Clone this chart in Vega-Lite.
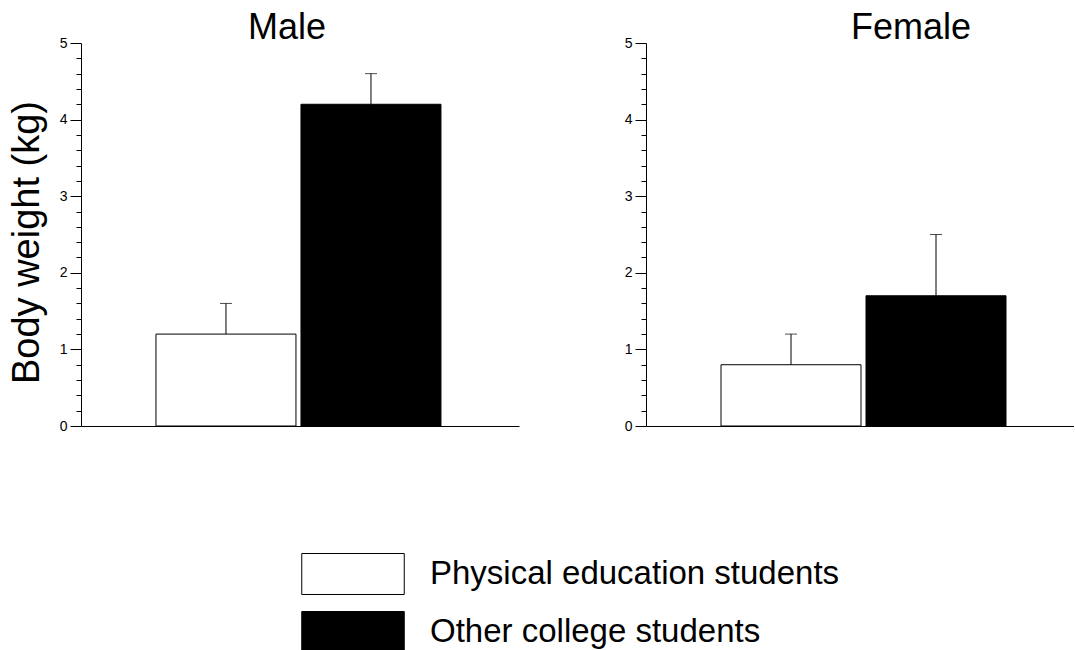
{
  "$schema": "https://vega.github.io/schema/vega-lite/v6.json",
  "background": "white",
  "padding": {"left": 8, "top": 10, "right": 0, "bottom": 0},
  "config": {
    "view": {"stroke": null},
    "font": "Liberation Sans",
    "axis": {"grid": false, "domainColor": "black", "tickColor": "black", "labelColor": "black", "titleColor": "black"},
    "title": {"color": "black", "fontWeight": "normal"}
  },
  "data": {
    "values": [
      {"sex": "Male", "group": "Physical education students", "value": 1.2, "upper": 1.6},
      {"sex": "Male", "group": "Other college students", "value": 4.2, "upper": 4.6},
      {"sex": "Female", "group": "Physical education students", "value": 0.8, "upper": 1.2},
      {"sex": "Female", "group": "Other college students", "value": 1.7, "upper": 2.5}
    ]
  },
  "spacing": 105,
  "resolve": {"scale": {"x": "independent", "y": "independent"}},
  "hconcat": [
    {
      "width": 438,
      "height": 383,
      "title": {"text": "Male", "fontSize": 36, "anchor": "middle", "frame": "group", "baseline": "alphabetic", "offset": -39, "dx": -13},
      "transform": [{"filter": "datum.sex === 'Male'"}],
      "encoding": {
        "x": {
          "field": "group", "type": "nominal",
          "sort": ["Physical education students", "Other college students"],
          "scale": {"paddingInner": 0.0345, "paddingOuter": 0.5276, "align": 0.49},
          "axis": {"labels": false, "ticks": false, "title": null, "domainColor": "black"}
        }
      },
      "resolve": {"axis": {"y": "independent"}},
      "layer": [
        {
          "mark": {"type": "bar", "stroke": "black", "strokeWidth": 1},
          "encoding": {
            "y": {
              "field": "value", "type": "quantitative",
              "scale": {"domain": [0, 5], "nice": false},
              "axis": {
                "orient": "left",
                "title": "Body weight (kg)", "titleFontSize": 38, "titleFontWeight": "normal", "titlePadding": 13, "titleY": 199,
                "values": [0, 1, 2, 3, 4, 5], "format": "d", "tickSize": 11,
                "labelFontSize": 14, "labelPadding": 3, "labelOverlap": false
              }
            },
            "fill": {
              "field": "group", "type": "nominal",
              "sort": ["Physical education students", "Other college students"],
              "scale": {"domain": ["Physical education students", "Other college students"], "range": ["white", "black"]},
              "legend": {
                "title": null, "orient": "none", "legendX": 251, "legendY": 510,
                "symbolType": "M-2.5,-1H2.5V1H-2.5Z", "symbolSize": 1681,
                "symbolStrokeColor": "black", "symbolStrokeWidth": 1, "symbolOpacity": 1,
                "labelFontSize": 33, "labelOffset": 56, "rowPadding": 12, "labelColor": "black",
                "labelLimit": 1000, "padding": 0
              }
            }
          }
        },
        {
          "mark": {"type": "rule", "color": "black", "strokeWidth": 1},
          "encoding": {"y": {"field": "value", "type": "quantitative", "axis": null}, "y2": {"field": "upper"}}
        },
        {
          "mark": {"type": "tick", "color": "black", "size": 12, "thickness": 1},
          "encoding": {
            "y": {
              "field": "upper", "type": "quantitative",
              "axis": {
                "orient": "left", "title": null, "labels": false, "domain": false, "tickSize": 5,
                "values": [0.2, 0.4, 0.6, 0.8, 1.2, 1.4, 1.6, 1.8, 2.2, 2.4, 2.6, 2.8, 3.2, 3.4, 3.6, 3.8, 4.2, 4.4, 4.6, 4.8]
              }
            }
          }
        }
      ]
    },
    {
      "width": 428,
      "height": 383,
      "title": {"text": "Female", "fontSize": 36, "anchor": "middle", "frame": "group", "baseline": "alphabetic", "offset": -39, "dx": 51},
      "transform": [{"filter": "datum.sex === 'Female'"}],
      "encoding": {
        "x": {
          "field": "group", "type": "nominal",
          "sort": ["Physical education students", "Other college students"],
          "scale": {"paddingInner": 0.0345, "paddingOuter": 0.4931, "align": 0.5245},
          "axis": {"labels": false, "ticks": false, "title": null, "domainColor": "black"}
        }
      },
      "resolve": {"axis": {"y": "independent"}},
      "layer": [
        {
          "mark": {"type": "bar", "stroke": "black", "strokeWidth": 1},
          "encoding": {
            "y": {
              "field": "value", "type": "quantitative",
              "scale": {"domain": [0, 5], "nice": false},
              "axis": {
                "orient": "left", "title": null,
                "values": [0, 1, 2, 3, 4, 5], "format": "d", "tickSize": 11,
                "labelFontSize": 14, "labelPadding": 3, "labelOverlap": false
              }
            },
            "fill": {
              "field": "group", "type": "nominal",
              "sort": ["Physical education students", "Other college students"],
              "scale": {"domain": ["Physical education students", "Other college students"], "range": ["white", "black"]}
            }
          }
        },
        {
          "mark": {"type": "rule", "color": "black", "strokeWidth": 1},
          "encoding": {"y": {"field": "value", "type": "quantitative", "axis": null}, "y2": {"field": "upper"}}
        },
        {
          "mark": {"type": "tick", "color": "black", "size": 12, "thickness": 1},
          "encoding": {
            "y": {
              "field": "upper", "type": "quantitative",
              "axis": {
                "orient": "left", "title": null, "labels": false, "domain": false, "tickSize": 5,
                "values": [0.2, 0.4, 0.6, 0.8, 1.2, 1.4, 1.6, 1.8, 2.2, 2.4, 2.6, 2.8, 3.2, 3.4, 3.6, 3.8, 4.2, 4.4, 4.6, 4.8]
              }
            }
          }
        }
      ]
    }
  ]
}
